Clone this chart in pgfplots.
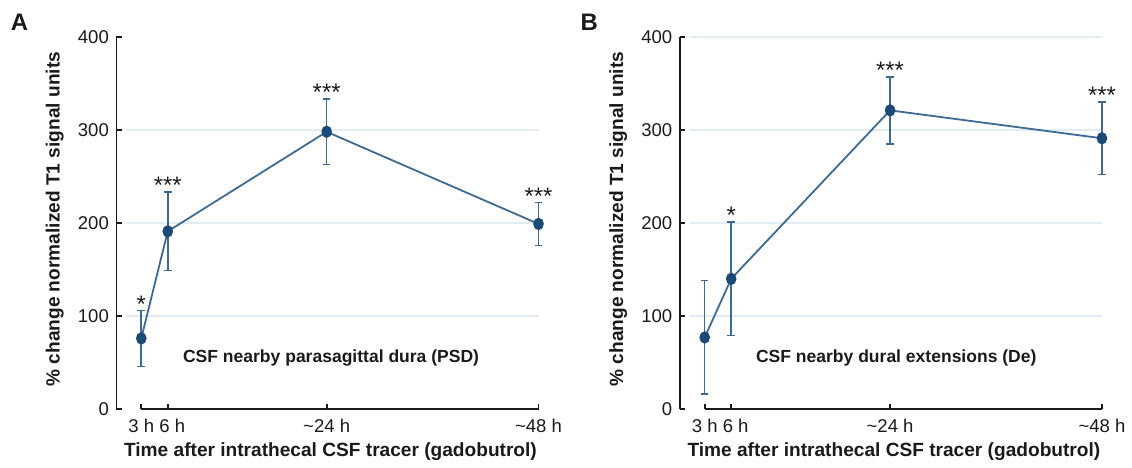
\documentclass[border=0pt]{standalone}
\usepackage{fontspec}
\setmainfont{Liberation Sans}
\usepackage{pgfplots}
\usepackage{pgfplotstable}
\pgfplotsset{compat=1.18}
\definecolor{ln}{HTML}{3D6A94}
\definecolor{mk}{HTML}{1C4A76}
\definecolor{gr}{HTML}{E2EDF1}
\definecolor{txt}{HTML}{1A1A1A}

\pgfplotstableread{
x y e
3 76 30
6 191 42
24 298 35
48 199 23
}\dataA
\pgfplotstableread{
x y e
3 77 61
6 140 61
24 321 36
48 291 39
}\dataB

\pgfplotsset{
  panel/.style={
    width=212pt, height=187pt, scale only axis,
    xmin=0.19, xmax=48, ymin=0, ymax=400,
    axis lines*=left,
    x axis line style={draw=none},
    y axis line style={line width=0.9pt, color=txt},
    xtick={3,6,24,48},
    xticklabels={3 h\hspace{3.5pt},\hspace{4.5pt}6 h,\textasciitilde24 h,\textasciitilde48 h},
    ytick={0,100,200,300,400},
    tick align=inside,
    major tick length=2.6pt,
    tick style={line width=0.9pt, color=txt},
    /pgf/number format/assume math mode=true,
    ticklabel style={font=\fontsize{9.3}{10}\selectfont, text=txt},
    xticklabel style={yshift=-1.3pt},
    yticklabel style={xshift=-0.3pt},
    every axis x label/.style={at={(axis description cs:0.5,0)}, yshift=-21.5pt, xshift=1.5pt, anchor=center,
      font=\bfseries\fontsize{9.6}{11}\selectfont, text=txt},
    every axis y label/.style={at={(axis description cs:0,0.51)}, xshift=-31pt, rotate=90, anchor=center,
      font=\bfseries\fontsize{9.6}{11}\selectfont, text=txt},
    xlabel={Time after intrathecal CSF tracer (gadobutrol)},
    ylabel={\% change normalized T1 signal units},
    clip=false,
  },
  dat/.style={
    color=ln, line width=0.9pt,
    mark=*, mark size=2.2pt,
    mark options={fill=mk, draw=mk, yscale=1.2},
    error bars/.cd, y dir=both, y explicit,
    error bar style={color=ln, line width=0.8pt},
    error mark options={rotate=90, mark size=1.9pt, color=ln, line width=0.8pt},
  },
}
\tikzset{
  sig/.style={anchor=south, inner sep=0pt, yshift=-1pt, font=\fontsize{12}{12}\selectfont, text=txt},
  ann/.style={anchor=center, font=\bfseries\fontsize{8.8}{11}\selectfont, text=txt},
}

\begin{document}
\begin{tikzpicture}
\path (0,0) rectangle (566pt,233.5pt);
\node[font=\bfseries\fontsize{12}{14}\selectfont, text=txt] at (9.75pt,222.5pt) {A};
\node[font=\bfseries\fontsize{12}{14}\selectfont, text=txt] at (296pt,222.5pt) {B};

\begin{axis}[panel, at={(58.5pt,28pt)}, anchor=south west]
  \draw[gr, line width=0.8pt] (axis cs:1.3,100) -- (axis cs:48,100);
  \draw[gr, line width=0.8pt] (axis cs:1.3,200) -- (axis cs:48,200);
  \draw[gr, line width=0.8pt] (axis cs:1.3,300) -- (axis cs:48,300);
  \draw[txt, line width=0.9pt] (axis cs:3,0) -- (axis cs:48,0);
  \addplot+[dat] table[x=x, y=y, y error=e] {\dataA};
  \node[sig] at (axis cs:3,106) {*};
  \node[sig] at (axis cs:6,233) {***};
  \node[sig] at (axis cs:24,333) {***};
  \node[sig] at (axis cs:48,222) {***};
  \node[ann] at (axis cs:24.5,54.5) {CSF nearby parasagittal dura (PSD)};
\end{axis}

\begin{axis}[panel, at={(341.5pt,28pt)}, anchor=south west]
  \draw[gr, line width=0.8pt] (axis cs:1.3,100) -- (axis cs:48,100);
  \draw[gr, line width=0.8pt] (axis cs:1.3,200) -- (axis cs:48,200);
  \draw[gr, line width=0.8pt] (axis cs:1.3,300) -- (axis cs:48,300);
  \draw[gr, line width=0.8pt] (axis cs:1.3,400) -- (axis cs:48,400);
  \draw[txt, line width=0.9pt] (axis cs:3,0) -- (axis cs:48,0);
  \addplot+[dat] table[x=x, y=y, y error=e] {\dataB};
  \node[sig] at (axis cs:6,201) {*};
  \node[sig] at (axis cs:24,357) {***};
  \node[sig] at (axis cs:48,330) {***};
  \node[ann] at (axis cs:24.7,54.5) {CSF nearby dural extensions (De)};
\end{axis}
\end{tikzpicture}
\end{document}
